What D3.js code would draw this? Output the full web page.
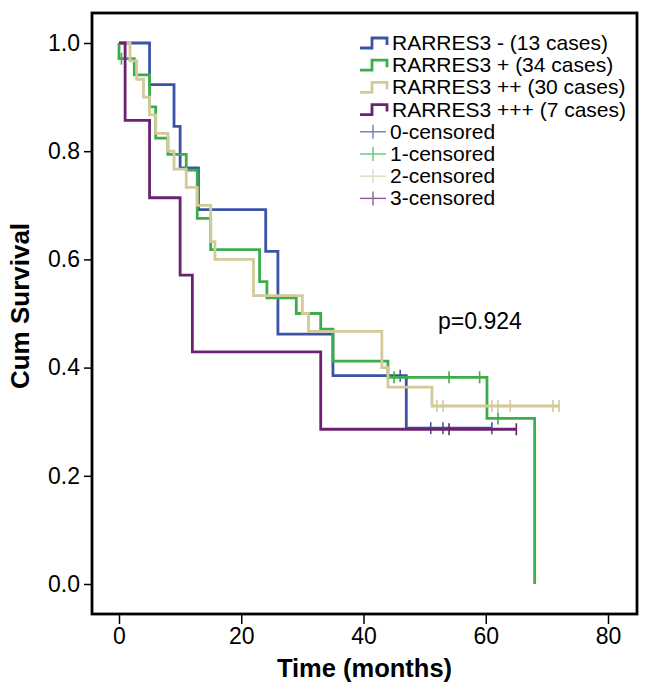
<!DOCTYPE html>
<html><head><meta charset="utf-8">
<script src="https://cdn.jsdelivr.net/npm/d3@7"></script>
<style>body{margin:0;background:#fff} svg{display:block}</style>
</head><body>
<svg id="c" width="650" height="693"></svg>
<script>
// ---------- data ----------
const seriesNames = ["RARRES3 - (13 cases)", "RARRES3 + (34 cases)", "RARRES3 ++ (30 cases)", "RARRES3 +++ (7 cases)"];
const censorNames = ["0-censored", "1-censored", "2-censored", "3-censored"];
const xTicks = [0, 20, 40, 60, 80];
const yTicks = [0.0, 0.2, 0.4, 0.6, 0.8, 1.0];
const pValueLabel = "p=0.924";

// step curves: time (months) and cumulative survival after each step
const negTimes = [0, 5, 9, 10, 13, 24, 26, 35, 47, 61];
const negSurv  = [1, 0.923, 0.846, 0.769, 0.692, 0.615, 0.462, 0.385, 0.288, 0.288];
const negCensT = [46, 51, 53, 61];
const negCensS = [0.385, 0.288, 0.288, 0.288];

const posTimes = [0, 0, 2.5, 5, 6, 8, 11, 12.8, 15, 23, 24.2, 29, 33, 35, 44, 60.2, 68, 68];
const posSurv  = [1, 0.971, 0.941, 0.882, 0.824, 0.794, 0.765, 0.676, 0.618, 0.559, 0.529, 0.5, 0.471, 0.412, 0.382, 0.306, 0.306, 0];
const posCensT = [0.4, 45, 54, 59, 62];
const posCensS = [0.971, 0.382, 0.382, 0.382, 0.306];

const pp2Times = [0, 1.8, 2.9, 4, 5, 6, 8, 9, 11, 12.8, 15, 15.7, 22, 30, 31, 43, 44, 51.2, 72];
const pp2Surv  = [1, 0.967, 0.933, 0.9, 0.867, 0.833, 0.8, 0.767, 0.733, 0.7, 0.633, 0.6, 0.533, 0.5, 0.467, 0.4, 0.364, 0.329, 0.329];
const pp2CensT = [52, 53, 61, 62, 64, 71, 72];
const pp2CensS = [0.329, 0.329, 0.329, 0.329, 0.329, 0.329, 0.329];

const pp3Times = [0, 1, 5, 10, 12, 33, 65];
const pp3Surv  = [1, 0.857, 0.714, 0.571, 0.429, 0.286, 0.286];
const pp3CensT = [54, 65];
const pp3CensS = [0.286, 0.286];

// ---------- styling ----------
const colors = ["#3b55a6", "#3dad4a", "#d2ca9a", "#6c2272"];
const censorColors = ["#6b7bbd", "#6cc277", "#e0dab8", "#8d5a93"];
const font = "'Liberation Sans', Arial, sans-serif";

const series = [
  {t: negTimes, s: negSurv, ct: negCensT, cs: negCensS},
  {t: posTimes, s: posSurv, ct: posCensT, cs: posCensS},
  {t: pp2Times, s: pp2Surv, ct: pp2CensT, cs: pp2CensS},
  {t: pp3Times, s: pp3Surv, ct: pp3CensT, cs: pp3CensS}
];

const svg = d3.select("#c");
const frame = {left: 92, right: 637, top: 13, bottom: 614};
const x = d3.scaleLinear().domain([0, 80]).range([119, 608]);
const y = d3.scaleLinear().domain([0, 1]).range([584, 43]);

svg.append("rect").attr("width", 650).attr("height", 693).attr("fill", "#fff");

// curves
const line = d3.line().x(d => x(d[0])).y(d => y(d[1])).curve(d3.curveStepAfter);
series.forEach((d, i) => {
  const pts = d.t.map((t, k) => [t, d.s[k]]);
  svg.append("path").attr("d", line(pts)).attr("fill", "none")
    .attr("stroke", colors[i]).attr("stroke-width", 2.8).attr("stroke-linejoin", "miter");
  d.ct.forEach((t, k) => {
    svg.append("line").attr("x1", x(t)).attr("x2", x(t))
      .attr("y1", y(d.cs[k]) - 6).attr("y2", y(d.cs[k]) + 6)
      .attr("stroke", colors[i]).attr("stroke-width", 1.6);
  });
});

// frame
svg.append("rect").attr("x", frame.left).attr("y", frame.top)
  .attr("width", frame.right - frame.left).attr("height", frame.bottom - frame.top)
  .attr("fill", "none").attr("stroke", "#000").attr("stroke-width", 2.8);

// axes
const yAxis = d3.axisLeft(y).tickValues(yTicks).tickFormat(d3.format(".1f")).tickSize(8).tickPadding(4);
const gy = svg.append("g").attr("transform", `translate(${frame.left},0)`).call(yAxis);
gy.select(".domain").remove();
gy.selectAll("line").attr("stroke", "#000").attr("stroke-width", 1.5);
gy.selectAll("text").attr("font-family", font).attr("font-size", 23).attr("fill", "#000");

const xAxis = d3.axisBottom(x).tickValues(xTicks).tickFormat(d3.format("d")).tickSize(10).tickPadding(4);
const gx = svg.append("g").attr("transform", `translate(0,${frame.bottom})`).call(xAxis);
gx.select(".domain").remove();
gx.selectAll("line").attr("stroke", "#000").attr("stroke-width", 1.5);
gx.selectAll("text").attr("font-family", font).attr("font-size", 23).attr("fill", "#000");

svg.append("text").attr("x", (frame.left + frame.right) / 2).attr("y", 677)
  .attr("text-anchor", "middle").attr("font-family", font).attr("font-weight", "bold")
  .attr("font-size", 25.5).text("Time (months)");
svg.append("text").attr("transform", "translate(29,306) rotate(-90)")
  .attr("text-anchor", "middle").attr("font-family", font).attr("font-weight", "bold")
  .attr("font-size", 26).text("Cum Survival");

// p-value
svg.append("text").attr("x", 438).attr("y", 329).attr("font-family", font)
  .attr("font-size", 23).text(pValueLabel);

// legend
const lg = svg.append("g");
const rowY = i => 43 + i * 22.2;
seriesNames.forEach((name, i) => {
  const cy = rowY(i);
  lg.append("path").attr("d", `M360,${cy + 5}H372V${cy - 5}H387V${cy + 2}`)
    .attr("fill", "none").attr("stroke", colors[i]).attr("stroke-width", 2.8);
  lg.append("text").attr("x", 392).attr("y", cy + 7).attr("font-family", font)
    .attr("font-size", 21).text(name);
});
censorNames.forEach((name, i) => {
  const cy = rowY(i + 4);
  lg.append("line").attr("x1", 360).attr("x2", 386).attr("y1", cy).attr("y2", cy)
    .attr("stroke", censorColors[i]).attr("stroke-width", 1.4);
  lg.append("line").attr("x1", 373).attr("x2", 373).attr("y1", cy - 7).attr("y2", cy + 7)
    .attr("stroke", censorColors[i]).attr("stroke-width", 1.4);
  lg.append("text").attr("x", 390).attr("y", cy + 7).attr("font-family", font)
    .attr("font-size", 21).text(name);
});
</script>
</body></html>
